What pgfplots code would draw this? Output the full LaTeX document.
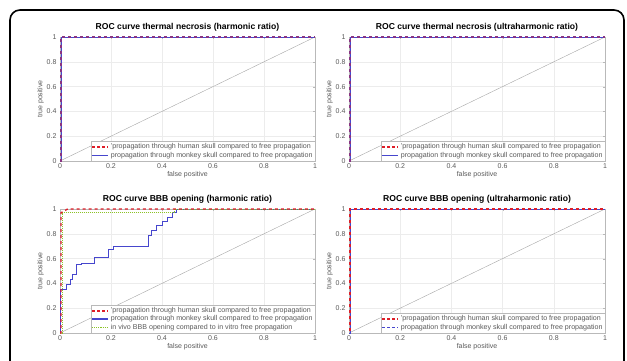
\documentclass[border=0pt]{standalone}
\usepackage{fontspec}
\setmainfont{Liberation Sans}
\usepackage{pgfplots}
\pgfplotsset{compat=1.18}
\definecolor{mred}{RGB}{222,30,40}
\definecolor{mblue}{RGB}{70,70,205}
\definecolor{mgreen}{RGB}{140,195,40}
\definecolor{mtxt}{RGB}{90,90,90}
\pgfplotsset{
  roc/.style={
    scale only axis, width=255pt, height=124pt,
    xmin=0, xmax=1, ymin=0, ymax=1, clip=false,
    xtick={0,0.2,0.4,0.6,0.8,1}, ytick={0,0.2,0.4,0.6,0.8,1},
    grid=major, grid style={gray!15, line width=0.4pt},
    axis line style={gray!55}, tick style={gray!55, major tick length=2pt},
    /pgf/number format/assume math mode=true,
    tick label style={font=\fontsize{7}{8}\selectfont, text=gray!70!black},
    xticklabel style={yshift=1pt},
    xlabel={false positive}, ylabel={true positive},
    label style={font=\fontsize{7}{8}\selectfont, text=gray!70!black},
    xlabel style={yshift=4pt},
    ylabel style={yshift=-4pt},
    title style={font=\bfseries\fontsize{8.6}{9}\selectfont, yshift=-4pt},
    legend style={at={(1,0)}, anchor=south east, font=\fontsize{7.1}{7.6}\selectfont,
      draw=gray!55, inner sep=0.3pt, row sep=-2.5pt},
    legend cell align=left,
  },
  lred/.style={legend image code/.code={\draw[mred, dash pattern=on 3pt off 2pt, line width=1.6pt] (0pt,0pt) -- (16pt,0pt);}},
  lblue/.style={legend image code/.code={\draw[mblue, line width=1.1pt] (0pt,0pt) -- (16pt,0pt);}},
  lbluedash/.style={legend image code/.code={\draw[mblue, dash pattern=on 3pt off 2pt, line width=1.1pt] (0pt,0pt) -- (16pt,0pt);}},
  lgreen/.style={legend image code/.code={\draw[mgreen, densely dotted, line width=1.1pt] (0pt,0pt) -- (16pt,0pt);}},
}
\begin{document}
\begin{tikzpicture}
\path[use as bounding box] (0pt,0pt) rectangle (627pt,360pt);
\draw[line width=1.6pt, rounded corners=10pt] (10pt,-30pt) rectangle (624pt,350pt);

% top-left
\begin{axis}[roc, at={(60pt,199pt)}, anchor=south west,
  title={ROC curve thermal necrosis (harmonic ratio)}]
\addplot[gray!70, thin, forget plot] coordinates {(0,0)(1,1)};
\addplot[mblue, line width=1pt, forget plot] coordinates {(0,0)(0.004,0)(0.004,1)(1,1)};
\addplot[mred!45!mblue, dashed, line width=1.4pt, forget plot] coordinates {(0,0)(0.004,0)(0.004,1)(1,1)};
\addlegendimage{lred}
\addlegendentry{\textcolor{mtxt}{'propagation through human skull compared to free propagation}}
\addlegendimage{lblue}
\addlegendentry{\textcolor{mtxt}{propagation through monkey skull compared to free propagation}}
\end{axis}

% top-right
\begin{axis}[roc, at={(349pt,199pt)}, anchor=south west, width=256pt,
  title={ROC curve thermal necrosis (ultraharmonic ratio)}]
\addplot[gray!70, thin, forget plot] coordinates {(0,0)(1,1)};
\addplot[mblue, line width=1pt, forget plot] coordinates {(0,0)(0.004,0)(0.004,1)(1,1)};
\addplot[mred!45!mblue, dashed, line width=1.4pt, forget plot] coordinates {(0,0)(0.004,0)(0.004,1)(1,1)};
\addlegendimage{lred}
\addlegendentry{\textcolor{mtxt}{'propagation through human skull compared to free propagation}}
\addlegendimage{lblue}
\addlegendentry{\textcolor{mtxt}{propagation through monkey skull compared to free propagation}}
\end{axis}

% bottom-left
\begin{axis}[roc, at={(60pt,27pt)}, anchor=south west,
  title={ROC curve BBB opening (harmonic ratio)}]
\addplot[gray!70, thin, forget plot] coordinates {(0,0)(1,1)};
\addplot[mblue, line width=1pt, forget plot] coordinates {
(0,0)(0,0.35)(0.026,0.35)(0.026,0.39)(0.042,0.39)(0.042,0.43)(0.05,0.43)(0.05,0.47)
(0.065,0.47)(0.065,0.55)(0.085,0.55)(0.085,0.56)(0.137,0.56)(0.137,0.61)(0.19,0.61)
(0.19,0.67)(0.21,0.67)(0.21,0.70)(0.346,0.70)(0.346,0.79)(0.36,0.79)(0.36,0.83)
(0.38,0.83)(0.38,0.87)(0.40,0.87)(0.40,0.90)(0.42,0.90)(0.42,0.93)(0.44,0.93)(0.44,0.97)
(0.455,0.97)(0.455,1)(0.54,1)(1,1)};
\addplot[mgreen, densely dotted, line width=1pt, forget plot] coordinates {
(0,0)(0.008,0)(0.008,0.97)(0.45,0.97)(0.45,1)(1,1)};
\addplot[mred, dashed, line width=1.4pt, forget plot] coordinates {
(0,0)(0.004,0)(0.004,0.97)(0.03,1)(1,1)};
\addlegendimage{lred}
\addlegendentry{\textcolor{mtxt}{'propagation through human skull compared to free propagation}}
\addlegendimage{lblue}
\addlegendentry{\textcolor{mtxt}{propagation through monkey skull compared to free propagation}}
\addlegendimage{lgreen}
\addlegendentry{\textcolor{mtxt}{in vivo BBB opening compared to in vitro free propagation}}
\end{axis}

% bottom-right
\begin{axis}[roc, at={(349pt,27pt)}, anchor=south west, width=256pt,
  title={ROC curve BBB opening (ultraharmonic ratio)}]
\addplot[gray!70, thin, forget plot] coordinates {(0,0)(1,1)};
\addplot[mblue, dashed, line width=1pt, forget plot] coordinates {(0,0)(0.004,0)(0.004,1)(1,1)};
\addplot[mred, dashed, line width=1.4pt, dash phase=3pt, forget plot] coordinates {(0,0)(0.004,0)(0.004,1)(1,1)};
\addlegendimage{lred}
\addlegendentry{\textcolor{mtxt}{'propagation through human skull compared to free propagation}}
\addlegendimage{lbluedash}
\addlegendentry{\textcolor{mtxt}{propagation through monkey skull compared to free propagation}}
\end{axis}
\end{tikzpicture}
\end{document}
